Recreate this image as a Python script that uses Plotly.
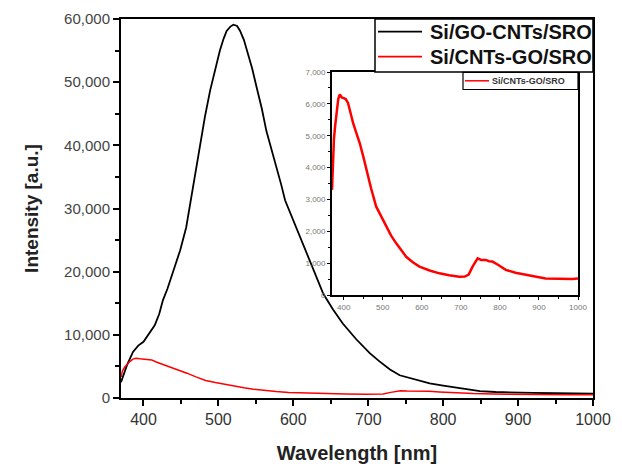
import plotly.graph_objects as go

# ---- data ----
black_wl = [370, 378, 386, 393, 400, 408, 415, 421, 426, 432, 437, 443, 449, 457, 463, 469, 475, 482, 489,
            496, 502, 507, 511, 516, 520, 525, 529, 534, 538, 545, 551, 558, 564, 571, 578, 584, 589, 597,
            604, 613, 622, 631, 640, 653, 666, 684, 702, 715, 729, 742, 762, 782, 800, 813, 830, 849, 870,
            893, 920, 950, 975, 1000]
black_int = [2500, 5200, 7300, 8300, 8900, 10200, 11500, 13300, 15500, 17300, 19000, 21000, 23400, 27000,
             31300, 35800, 40200, 44500, 48700, 52200, 55000, 56900, 58100, 58800, 59100, 58900, 58100,
             56700, 55000, 52200, 49200, 45800, 42300, 39300, 36500, 33700, 31300, 29000, 27000, 24300,
             21800, 19000, 16500, 14000, 11800, 9300, 7100, 5800, 4500, 3600, 2900, 2300, 1950, 1700, 1400,
             1100, 950, 850, 800, 750, 750, 700]

red_wl = [370, 372, 375, 378, 382, 386, 390, 395, 400, 405, 411, 417, 424, 432, 441, 450, 458, 470, 483,
          496, 509, 521, 534, 547, 560, 577, 594, 620, 645, 670, 696, 710, 720, 730, 743, 752, 764, 772,
          781, 795, 815, 840, 866, 890, 917, 940, 968, 985, 1000]
red_int = [3300, 4300, 4900, 5300, 5800, 6150, 6300, 6200, 6180, 6150, 6030, 5700, 5400, 5100, 4770, 4350,
           3930, 3350, 2780, 2450, 2150, 1870, 1630, 1400, 1200, 1030, 890, 770, 680, 620, 575, 580, 640,
           890, 1150, 1100, 1100, 1060, 1050, 950, 790, 700, 630, 580, 520, 510, 520, 500, 520]

series_names = ["Si/GO-CNTs/SRO", "Si/CNTs-GO/SRO"]
inset_legend_name = "Si/CNTs-GO/SRO"

main_xticks = [400, 500, 600, 700, 800, 900, 1000]
main_yticks = [0, 10000, 20000, 30000, 40000, 50000, 60000]
inset_xticks = [400, 500, 600, 700, 800, 900, 1000]
inset_yticks = [0, 1000, 2000, 3000, 4000, 5000, 6000, 7000]

# ---- geometry helpers (screen pixel -> paper); page body adds an 8px offset ----
W, H = 622, 470
OFF = 8
L, R, T, B = 121, 593, 19, 398
def px(x):
    return (x - L) / (R - L)
def py(y):
    return (B - y) / (B - T)

FONT = "Liberation Sans, Arial, sans-serif"

fig = go.Figure()
fig.add_trace(go.Scatter(x=black_wl, y=black_int, mode="lines", line=dict(color="black", width=1.8),
                         xaxis="x", yaxis="y", showlegend=False))
fig.add_trace(go.Scatter(x=red_wl, y=red_int, mode="lines", line=dict(color="#ff0000", width=1.5),
                         xaxis="x", yaxis="y", showlegend=False))
fig.add_trace(go.Scatter(x=red_wl, y=red_int, mode="lines", line=dict(color="#ff0000", width=2.5),
                         xaxis="x2", yaxis="y2", showlegend=False))

axis_common = dict(showline=True, linecolor="black", mirror=True, showgrid=False, zeroline=False,
                   automargin=False)

fig.update_layout(
    width=W, height=H,
    margin=dict(l=L - OFF, r=W - R + OFF, t=T - OFF, b=H - B + OFF, pad=0, autoexpand=False),
    paper_bgcolor="white", plot_bgcolor="white",
    font=dict(family=FONT, color="#333"),
    xaxis=dict(**axis_common, domain=[0, 1], range=[370, 1000], linewidth=2,
               tickvals=main_xticks, ticks="outside", ticklen=6, tickwidth=1.5, tickcolor="black",
               tickfont=dict(size=16, color="#333"),
               minor=dict(ticks="outside", ticklen=4, tickwidth=1.5, dtick=50, tickcolor="black"),
               title=dict(text="<b>Wavelength [nm]</b>", font=dict(size=20, color="#222"), standoff=19)),
    yaxis=dict(**axis_common, domain=[0, 1], range=[0, 60000], linewidth=2,
               tickvals=main_yticks, tickformat=",d", ticks="outside", ticklen=6, tickwidth=1.5,
               tickcolor="black", tickfont=dict(size=15, color="#444"),
               minor=dict(ticks="outside", ticklen=4, tickwidth=1.5, dtick=5000, tickcolor="black"),
               title=dict(text="<b>Intensity [a.u.]</b>", font=dict(size=19, color="#222"), standoff=20)),
    xaxis2=dict(**axis_common, domain=[px(332), px(578)], range=[370, 1000], anchor="y2", linewidth=1.8,
                tickvals=inset_xticks, ticks="outside", ticklen=3, tickwidth=1, tickcolor="black",
                tickfont=dict(size=8, color="#777"),
                minor=dict(ticks="outside", ticklen=2, tickwidth=1, dtick=50, tickcolor="black")),
    yaxis2=dict(**axis_common, domain=[py(295), py(72)], range=[0, 7000], anchor="x2", linewidth=1.8,
                tickvals=inset_yticks, tickformat=",d", ticks="outside", ticklen=3, tickwidth=1,
                tickcolor="black", tickfont=dict(size=8, color="#777"),
                minor=dict(ticks="outside", ticklen=2, tickwidth=1, dtick=500, tickcolor="black")),
)

shapes = []
annotations = []
# main legend box
shapes.append(dict(type="rect", xref="paper", yref="paper", x0=px(375), x1=px(593), y0=py(72), y1=py(19),
                   line=dict(color="black", width=1.5), fillcolor="white", layer="above"))
for i, (name, col) in enumerate(zip(series_names, ["black", "#ff0000"])):
    yy = [31.7, 56.7][i]
    shapes.append(dict(type="line", xref="paper", yref="paper", x0=px(378), x1=px(422), y0=py(yy), y1=py(yy),
                       line=dict(color=col, width=1.8), layer="above"))
    annotations.append(dict(xref="paper", yref="paper", x=px(428), y=py(yy), xanchor="left", yanchor="middle",
                            text="<b>" + name + "</b>", showarrow=False,
                            font=dict(size=20, color="#111", family=FONT)))
# inset legend box
shapes.append(dict(type="rect", xref="paper", yref="paper", x0=px(463), x1=px(578), y0=py(89.5), y1=py(72.3),
                   line=dict(color="black", width=1.2), fillcolor="white", layer="above"))
shapes.append(dict(type="line", xref="paper", yref="paper", x0=px(465), x1=px(489), y0=py(80.8), y1=py(80.8),
                   line=dict(color="#ff0000", width=1.5), layer="above"))
annotations.append(dict(xref="paper", yref="paper", x=px(490), y=py(80.8), xanchor="left", yanchor="middle",
                        text="<b>" + inset_legend_name + "</b>", showarrow=False,
                        font=dict(size=9, color="#333", family=FONT)))

fig.update_layout(shapes=shapes, annotations=annotations)
fig.write_html("out.html")
